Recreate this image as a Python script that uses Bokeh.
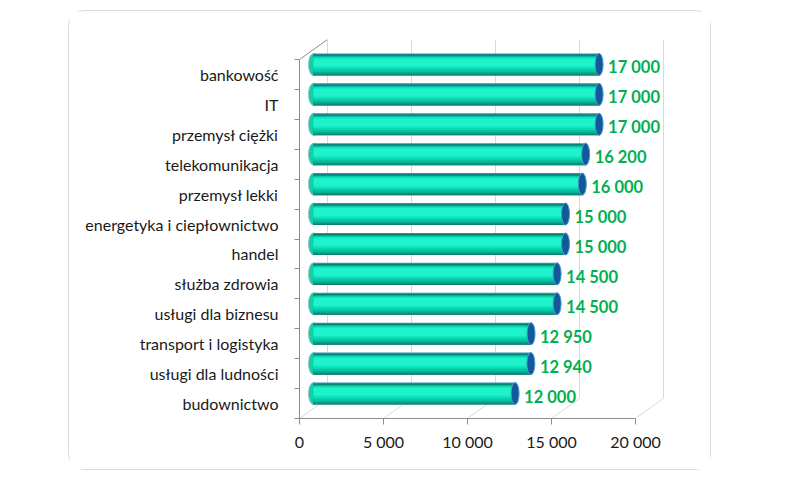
from bokeh.plotting import figure
from bokeh.models import Range1d, FixedTicker, ColumnDataSource
from bokeh.core.properties import value
from bokeh.embed import file_html
from bokeh.resources import INLINE

# ---- data ----
categories = ["budownictwo", "usługi dla ludności", "transport i logistyka",
              "usługi dla biznesu", "służba zdrowia", "handel",
              "energetyka i ciepłownictwo", "przemysł lekki", "telekomunikacja",
              "przemysł ciężki", "IT", "bankowość"]
salaries = [12000, 12940, 12950, 14500, 14500, 15000, 15000, 16000, 16200,
            17000, 17000, 17000]
x_ticks = [0, 5000, 10000, 15000, 20000]
x_tick_labels = ["0", "5 000", "10 000", "15 000", "20 000"]

N = len(categories)
XMAX = x_ticks[-1]
DX = 1667      # depth of the 3D box, x units
DY = 0.67      # depth of the 3D box, y units

p = figure(width=643, height=460, output_backend="svg", toolbar_location=None,
           x_range=Range1d(0, XMAX + DX + 60), y_range=Range1d(0, N + DY),
           min_border_left=230, min_border_right=48, min_border_top=28,
           min_border_bottom=53)
p.styles = {"margin-left": "68px", "margin-top": "10px",
            "border": "1px solid #d9d9d9", "border-radius": "16px"}
p.background_fill_color = "white"
p.border_fill_color = "white"
p.outline_line_color = None
p.xgrid.visible = False
p.ygrid.visible = False

# extra ranges: bars sit at half depth of the 3D box
p.extra_x_ranges = {"bars": Range1d(-DX / 2, XMAX + DX / 2 + 60)}
p.extra_y_ranges = {"bars": Range1d(-DY / 2, N + DY / 2)}

# ---- back wall & floor ----
back_x = [v + DX for v in x_ticks]
p.segment(x0=back_x, y0=[DY] * len(x_ticks), x1=back_x, y1=[N + DY] * len(x_ticks),
          line_color="#d9d9d9", line_width=1)
p.segment(x0=x_ticks, y0=[0] * len(x_ticks), x1=back_x, y1=[DY] * len(x_ticks),
          line_color="#d9d9d9", line_width=1)
# left wall top edge
p.segment(x0=[0], y0=[N], x1=[DX], y1=[N + DY], line_color="#8c8c8c", line_width=1)

# ---- cylinders ----
ys = [i + 0.5 for i in range(N)]
src = ColumnDataSource(dict(y=ys, v=salaries, x0=[0] * N,
                            lab=[f"{s:,}".replace(",", " ") for s in salaries]))
H = 0.74
kw = dict(x_range_name="bars", y_range_name="bars", source=src)
# left rounded ends
p.ellipse(x="x0", y="y", width=10, height=H, width_units="screen",
          fill_color="#12cfa9", line_color="#8fc4bd", line_width=1, **kw)

# shading bands of the cylinder body (offset from centre, shrink, colour)
shading = [(0.0, 0.0, "#2a8fc0"),
           (-0.02, 0.04, "#0a7c6a"),
           (-0.02, 0.10, "#0b957f"),
           (-0.01, 0.16, "#08ad91"),
           (0.01, 0.22, "#06c3a3"),
           (0.03, 0.30, "#07d6b1"),
           (0.05, 0.38, "#10e6bf"),
           (0.06, 0.48, "#1ef3cc")]
for off, shrink, col in shading:
    s = ColumnDataSource(dict(y=[y + off for y in ys], v=salaries, x0=[0] * N))
    p.hbar(y="y", left="x0", right="v", height=H - shrink, fill_color=col,
           line_color=None, x_range_name="bars", y_range_name="bars", source=s)

# right end caps
p.ellipse(x="v", y="y", width=8, height=H, width_units="screen",
          fill_color="#12589a", line_color="#4b9ad0", line_width=1, **kw)

# value labels
p.text(x="v", y="y", text="lab", x_offset=9, y_offset=3, text_baseline="middle",
       text_align="left", text_font=value("Lato"), text_font_style="bold",
       text_font_size="16.5px", text_color="#00b050", **kw)

# ---- axes ----
xa = p.xaxis[0]
xa.ticker = FixedTicker(ticks=x_ticks)
xa.major_label_overrides = {t: l for t, l in zip(x_ticks, x_tick_labels)}
xa.bounds = (0, XMAX)
xa.axis_line_color = "#8c8c8c"
xa.major_tick_line_color = "#8c8c8c"
xa.major_tick_out = 6
xa.major_tick_in = 0
xa.minor_tick_line_color = None
xa.major_label_text_font = "Lato"
xa.major_label_text_font_size = "16px"
xa.major_label_text_color = "#1a1a1a"
xa.major_label_standoff = 7

ya = p.yaxis[0]
ya.ticker = FixedTicker(ticks=ys, minor_ticks=list(range(N + 1)))
ya.major_label_overrides = {y: c for y, c in zip(ys, categories)}
ya.bounds = (0, N)
ya.axis_line_color = "#8c8c8c"
ya.major_tick_line_color = None
ya.minor_tick_line_color = "#8c8c8c"
ya.minor_tick_out = 5
ya.minor_tick_in = 0
ya.major_label_text_font = "Lato"
ya.major_label_text_font_size = "16px"
ya.major_label_text_color = "#1a1a1a"
ya.major_label_standoff = 15

open("out.html", "w").write(file_html(p, INLINE))
